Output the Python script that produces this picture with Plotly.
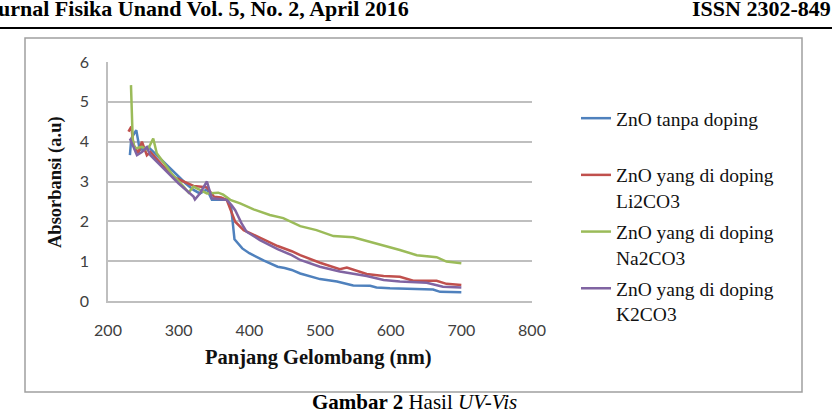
import plotly.graph_objects as go

# ---------------- data ----------------
wl_blue = [231, 233, 240, 245, 257, 269, 290, 310, 321, 330, 340, 347, 360, 368, 374, 376, 379, 390, 400, 420, 440, 450, 460, 472, 485, 500, 524, 547, 571, 580, 599, 627, 660, 670, 700]
abs_blue = [3.66, 4.08, 4.29, 3.79, 3.87, 3.66, 3.30, 2.95, 2.79, 2.70, 2.80, 2.54, 2.54, 2.54, 2.40, 2.00, 1.55, 1.32, 1.20, 1.02, 0.86, 0.83, 0.78, 0.69, 0.63, 0.55, 0.49, 0.39, 0.38, 0.34, 0.32, 0.30, 0.29, 0.23, 0.22]

wl_red = [229, 233, 236, 243, 248, 255, 260, 280, 292, 307, 321, 332, 340, 350, 360, 368, 377, 380, 392, 405, 420, 440, 460, 472, 500, 528, 538, 566, 590, 613, 632, 665, 679, 700]
abs_red = [4.25, 4.38, 3.92, 3.71, 4.00, 3.66, 3.74, 3.35, 3.12, 3.00, 2.89, 2.87, 2.85, 2.62, 2.60, 2.54, 2.12, 1.99, 1.78, 1.68, 1.55, 1.38, 1.25, 1.15, 0.96, 0.80, 0.84, 0.68, 0.63, 0.61, 0.51, 0.51, 0.43, 0.40]

wl_green = [232.5, 235, 238, 248, 256, 264, 269, 290, 307, 314, 321, 340, 356, 363, 373, 387, 406, 429, 448, 467, 472, 495, 519, 547, 571, 585, 613, 637, 651, 665, 679, 700]
abs_green = [5.42, 4.04, 3.83, 3.87, 3.79, 4.08, 3.71, 3.20, 2.87, 2.72, 2.87, 2.70, 2.72, 2.67, 2.54, 2.45, 2.30, 2.16, 2.08, 1.91, 1.88, 1.78, 1.63, 1.60, 1.49, 1.41, 1.28, 1.15, 1.13, 1.10, 0.99, 0.95]

wl_purple = [231, 241, 248, 255, 260, 280, 300, 321, 323, 330, 340, 347, 368, 375, 380, 389, 396, 415, 440, 460, 472, 500, 528, 566, 590, 613, 651, 674, 700]
abs_purple = [4.08, 3.66, 3.74, 3.86, 3.66, 3.30, 2.95, 2.62, 2.55, 2.70, 3.00, 2.58, 2.54, 2.40, 2.28, 1.95, 1.74, 1.53, 1.30, 1.15, 1.03, 0.86, 0.74, 0.63, 0.53, 0.49, 0.46, 0.36, 0.34]

series_names = ["ZnO tanpa doping<br> ", "ZnO yang di doping<br>Li2CO3",
                "ZnO yang di doping<br>Na2CO3", "ZnO yang di doping<br>K2CO3"]
series_colors = ["#4F81BD", "#C0504D", "#9BBB59", "#8064A2"]

x_ticks = [200, 300, 400, 500, 600, 700, 800]
y_ticks = [0, 1, 2, 3, 4, 5, 6]

x_title = "Panjang Gelombang (nm)"
y_title = "Absorbansi (a.u)"
header_left = "Jurnal Fisika Unand Vol. 5, No. 2, April 2016"
header_right = "ISSN 2302-8491"
caption = "<b>Gambar 2</b> Hasil <i>UV-Vis</i>"

# ---------------- layout geometry (pixels) ----------------
W, H = 832, 414
L, R, T, B = 108, 532, 62, 301   # plot area edges


def px(xp):
    return (xp - L) / (R - L)


def py(yp):
    return (B - yp) / (B - T)


fig = go.Figure()
data = [(wl_blue, abs_blue), (wl_red, abs_red), (wl_green, abs_green), (wl_purple, abs_purple)]
for i, ((xs, ys), name, col) in enumerate(zip(data, series_names, series_colors)):
    fig.add_trace(go.Scatter(x=xs, y=ys, mode="lines", name=name,
                             legendgroup=f"g{i}",
                             line=dict(color=col, width=2.5)))

serif = "Liberation Serif"
sans = "Lato"

fig.update_layout(
    width=W, height=H,
    margin=dict(l=L, r=W - R, t=T, b=H - B),
    paper_bgcolor="white", plot_bgcolor="white",
    showlegend=True,
    legend=dict(x=px(576), y=py(99), xanchor="left", yanchor="top",
                font=dict(family=serif, size=19.5, color="#111111"),
                valign="top", tracegroupgap=3, bgcolor="rgba(0,0,0,0)",
                itemclick=False, itemdoubleclick=False),
    xaxis=dict(range=[200, 800], tickvals=x_ticks, ticktext=[str(v) for v in x_ticks],
               showgrid=False, zeroline=False, showline=True,
               linecolor="#BFBFBF", linewidth=1.5, ticks="",
               tickfont=dict(family=sans, size=16, color="#404040"),
               ticklabelstandoff=14),
    yaxis=dict(range=[0, 6], tickvals=y_ticks, ticktext=[str(v) for v in y_ticks],
               showgrid=True, gridcolor="#BFBFBF", gridwidth=1.5,
               zeroline=False, showline=True, linecolor="#BFBFBF", linewidth=1.5,
               ticks="", tickfont=dict(family=sans, size=16, color="#404040"),
               ticklabelstandoff=14),
)

shapes = [
    # header rule
    dict(type="line", xref="paper", yref="paper", x0=px(0), x1=px(W), y0=py(28), y1=py(28),
         line=dict(color="black", width=2)),
    # chart border box
    dict(type="rect", xref="paper", yref="paper", x0=px(25), x1=px(802), y0=py(392), y1=py(38),
         line=dict(color="#A0A0A0", width=1.5), layer="below"),
]
fig.update_layout(shapes=shapes)

ann = [
    dict(text=f"<b>{header_left}</b>", x=px(411), y=py(9), xanchor="right", yanchor="middle",
         font=dict(family=serif, size=22, color="black")),
    dict(text=f"<b>{header_right}</b>", x=px(690), y=py(9), xanchor="left", yanchor="middle",
         font=dict(family=serif, size=22, color="black")),
    dict(text=f"<b>{x_title}</b>", x=px(318), y=py(357), xanchor="center", yanchor="middle",
         font=dict(family=serif, size=20.5, color="#111111")),
    dict(text=f"<b>{y_title}</b>", x=px(55), y=py(182), xanchor="center", yanchor="middle",
         textangle=-90, font=dict(family=serif, size=18.5, color="#111111")),
    dict(text=caption, x=px(414), y=py(402), xanchor="center", yanchor="middle",
         font=dict(family=serif, size=21, color="black")),
]
for a in ann:
    a.update(xref="paper", yref="paper", showarrow=False)
fig.update_layout(annotations=ann)

fig.write_html("out.html")
